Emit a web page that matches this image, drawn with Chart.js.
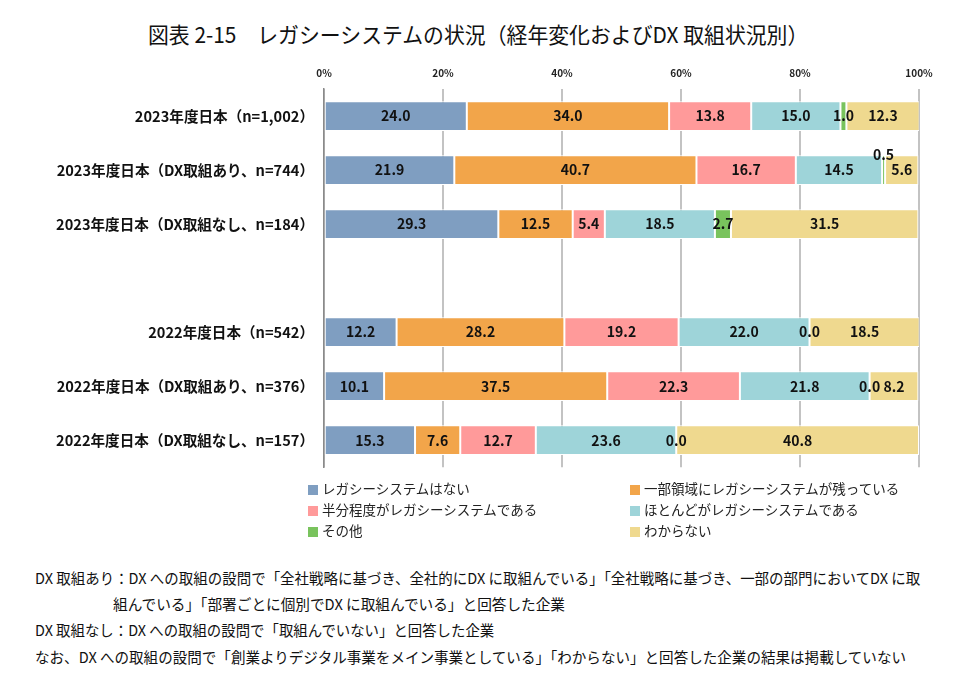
<!DOCTYPE html>
<html lang="ja">
<head>
<meta charset="utf-8">
<script src="https://cdn.jsdelivr.net/npm/chart.js@4.4.1/dist/chart.umd.min.js"></script>
<style>
  body { margin: 0; background: #fff; width: 980px; height: 683px; position: relative; overflow: hidden;
         font-family: "Noto Sans CJK JP", "Noto Sans", sans-serif; color: #111; }
  #title { position: absolute; top: 19px; left: 148px; font-size: 22px; line-height: 28px; white-space: nowrap;
           transform-origin: left center; }
  #chartWrap { position: absolute; left: 0; top: 60px; width: 980px; height: 426px; }
  #chartWrap canvas { display: block; }
  #legend { position: absolute; left: 308px; top: 477px; display: grid; grid-template-columns: 322px 300px; row-gap: 0; }
  .leg { height: 21px; display: flex; align-items: center; font-size: 13.5px; white-space: nowrap; color: #222; }
  .leg i { display: inline-block; width: 10px; height: 10px; margin-right: 4px; margin-top: 5px; }
  .note { position: absolute; font-size: 15px; line-height: 20px; white-space: nowrap; transform-origin: left center; }
</style>
</head>
<body>
<div id="title">図表 2-15　レガシーシステムの状況（経年変化およびDX 取組状況別）</div>
<div id="chartWrap"><canvas id="legacyChart" width="980" height="426"></canvas></div>
<div id="legend"></div>
<div class="note" data-w="885" style="left:35px; top:568px;">DX 取組あり：DX への取組の設問で「全社戦略に基づき、全社的にDX に取組んでいる」「全社戦略に基づき、一部の部門においてDX に取</div>
<div class="note" data-w="452" style="left:113px; top:594px;">組んでいる」「部署ごとに個別でDX に取組んでいる」と回答した企業</div>
<div class="note" data-w="459" style="left:35px; top:620px;">DX 取組なし：DX への取組の設問で「取組んでいない」と回答した企業</div>
<div class="note" data-w="871" style="left:35px; top:647px;">なお、DX への取組の設問で「創業よりデジタル事業をメイン事業としている」「わからない」と回答した企業の結果は掲載していない</div>
<script>
const categories = [
  "2023年度日本（n=1,002）",
  "2023年度日本（DX取組あり、n=744）",
  "2023年度日本（DX取組なし、n=184）",
  "",
  "2022年度日本（n=542）",
  "2022年度日本（DX取組あり、n=376）",
  "2022年度日本（DX取組なし、n=157）",
];

const seriesNames = [
  "レガシーシステムはない",
  "一部領域にレガシーシステムが残っている",
  "半分程度がレガシーシステムである",
  "ほとんどがレガシーシステムである",
  "その他",
  "わからない",
];

const noLegacy = [24.0, 21.9, 29.3, null, 12.2, 10.1, 15.3];
const partLegacy = [34.0, 40.7, 12.5, null, 28.2, 37.5, 7.6];
const halfLegacy = [13.8, 16.7, 5.4, null, 19.2, 22.3, 12.7];
const mostLegacy = [15.0, 14.5, 18.5, null, 22.0, 21.8, 23.6];
const otherAnswer = [1.0, 0.5, 2.7, null, 0.0, 0.0, 0.0];
const unknownAnswer = [12.3, 5.6, 31.5, null, 18.5, 8.2, 40.8];

const xTicks = [0, 20, 40, 60, 80, 100];

const palette = ["#7F9EC1", "#F2A54A", "#FF9A9A", "#9ED4D9", "#79C35D", "#EFD98F"];
const seriesValues = [noLegacy, partLegacy, halfLegacy, mostLegacy, otherAnswer, unknownAnswer];

const fontFamily = '"Noto Sans CJK JP", "Noto Sans", sans-serif';

// fit condensed text lines to the widths seen in the figure
function fitWidth(el, target) {
  const w = el.scrollWidth;
  if (w > 0) el.style.transform = `scaleX(${target / w})`;
}
fitWidth(document.getElementById("title"), 660);
document.querySelectorAll(".note").forEach((el) => fitWidth(el, Number(el.dataset.w)));

// legend
const legendEl = document.getElementById("legend");
seriesNames.forEach((name, i) => {
  const item = document.createElement("div");
  item.className = "leg";
  item.innerHTML = `<i style="background:${palette[i]}"></i><span>${name}</span>`;
  legendEl.appendChild(item);
});

const valueLabels = {
  id: "valueLabels",
  afterDatasetsDraw(chart) {
    const { ctx } = chart;
    ctx.save();
    ctx.font = `bold 14px ${fontFamily}`;
    ctx.fillStyle = "#111";
    ctx.textAlign = "center";
    ctx.textBaseline = "middle";
    chart.data.datasets.forEach((ds, di) => {
      const meta = chart.getDatasetMeta(di);
      meta.data.forEach((bar, i) => {
        const v = ds.data[i];
        if (v === null || v === undefined) return;
        const cx = (bar.x + bar.base) / 2;
        let cy = bar.y;
        if (v > 0 && v < 1) cy -= 15;
        ctx.fillText(v.toFixed(1), cx, cy);
      });
    });
    ctx.restore();
  },
};

new Chart(document.getElementById("legacyChart"), {
  type: "bar",
  data: {
    labels: categories,
    datasets: seriesNames.map((name, i) => ({
      label: name,
      data: seriesValues[i],
      backgroundColor: palette[i],
      borderColor: "#ffffff",
      borderWidth: 1,
      borderSkipped: false,
      barPercentage: 0.55,
      categoryPercentage: 1,
    })),
  },
  options: {
    indexAxis: "y",
    responsive: false,
    animation: false,
    devicePixelRatio: 1,
    layout: { padding: { left: 0, right: 61, top: 0, bottom: 3 } },
    plugins: {
      legend: { display: false },
      tooltip: { enabled: false },
    },
    scales: {
      x: {
        position: "top",
        stacked: true,
        min: 0,
        max: 100,
        afterBuildTicks: (scale) => { scale.ticks = xTicks.map((v) => ({ value: v })); },
        afterFit: (scale) => { scale.height = 29; },
        ticks: {
          padding: 10,
          color: "#222",
          font: { family: fontFamily, size: 10, weight: "bold" },
          callback: (v) => v + "%",
        },
        grid: {
          drawTicks: false,
          color: (c) => (c.tick && c.tick.value === 0 ? "#8a8a8a" : "#c3c3c3"),
          lineWidth: (c) => (c.tick && c.tick.value === 0 ? 1.5 : 2),
        },
        border: { display: false },
      },
      y: {
        stacked: true,
        afterFit: (scale) => { scale.width = 324; },
        ticks: {
          padding: 10,
          color: "#111",
          font: { family: fontFamily, size: 14.6, weight: "bold" },
        },
        grid: { display: false, drawTicks: false },
        border: { display: true, color: "#8a8a8a", width: 1.5 },
      },
    },
  },
  plugins: [valueLabels],
});
</script>
</body>
</html>
